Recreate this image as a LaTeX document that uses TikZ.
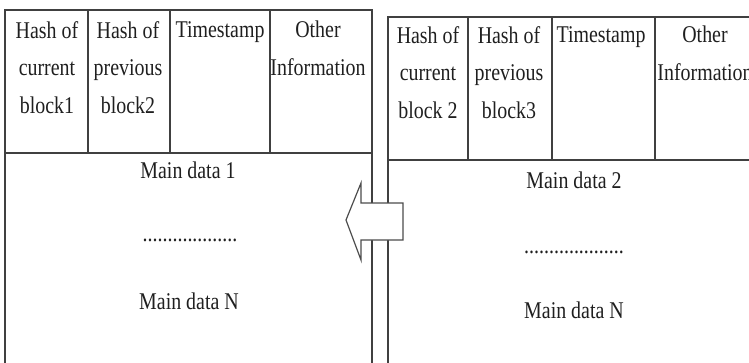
\documentclass[tikz,border=0pt]{standalone}
\usepackage{fontspec}
\setmainfont[FakeStretch=0.83]{Liberation Serif}
\begin{document}
\begin{tikzpicture}[x=1pt,y=-1pt,
  frame/.style={draw=black!75, line width=1.3pt},
  hline/.style={draw=black!75, line width=1.8pt},
  cell/.style={anchor=north, inner sep=0pt, align=center, font=\fontsize{24}{37.5}\selectfont, text=black!88},
  data/.style={anchor=base, inner sep=0pt, font=\fontsize{24}{30}\selectfont, text=black!88},
  bigarrow/.style={draw=black!70, line width=1.2pt, fill=white, line join=miter}]
\useasboundingbox (0,0) rectangle (749,362);
\clip (0,0) rectangle (749,362);
% ---------- left block ----------
\draw[frame] (5,375) -- (5,10) (372,10) -- (372,375);
\draw[hline] (4,10) -- (373,10);
\draw[hline] (5,153) -- (372,153);
\draw[frame] (88,10) -- (88,153) (170,10) -- (170,153) (270,10) -- (270,153);
\node[cell] (l1) at (47,21) {Hash of\\current\\block1};
\node[cell] (l2) at (128,21) {Hash of\\previous\\block2};
\node[cell] (l3) at (220,21) {Timestamp};
\node[cell] (l4) at (318,21) {Other\\Information};
\node[data] (ld1) at (188,178) {Main data 1};
\node[data] (ldd) at (190,241) {...................};
\node[data] (ldn) at (189,309) {Main data N};
% ---------- right block ----------
\draw[frame] (388,375) -- (388,17);
\draw[hline] (387,17) -- (760,17);
\draw[hline] (388,160) -- (760,160);
\draw[frame] (468,17) -- (468,160) (552,17) -- (552,160) (655,17) -- (655,160);
\node[cell] (r1) at (428,26) {Hash of\\current\\block 2};
\node[cell] (r2) at (509,26) {Hash of\\previous\\block3};
\node[cell] (r3) at (601,26) {Timestamp};
\node[cell] (r4) at (705,26) {Other\\Information};
\node[data] (rd1) at (574,188) {Main data 2};
\node[data] (rdd) at (574,253) {....................};
\node[data] (rdn) at (574,318) {Main data N};
% ---------- arrow ----------
\draw[bigarrow] (346,220) -- (361,183) -- (361,203) -- (403,203) -- (403,240) -- (361,240) -- (361,260) -- cycle;
\end{tikzpicture}
\end{document}
